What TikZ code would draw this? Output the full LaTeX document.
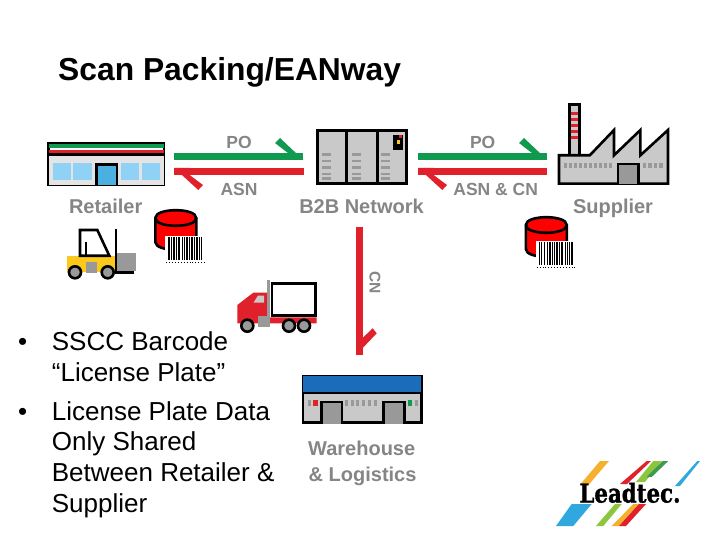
\documentclass[tikz,border=0pt]{standalone}
\usepackage{fontspec}
\usepackage{graphicx}
\setmainfont{Liberation Sans}
\newfontfamily\logofont{DejaVu Serif Bold}[FakeBold=1.5]
\definecolor{arrowgreen}{HTML}{0F9A50}
\definecolor{arrowred}{HTML}{E0202A}
\definecolor{labelgrey}{HTML}{858585}
\definecolor{wallgrey}{HTML}{C9C9C9}
\definecolor{doorgrey}{HTML}{999999}
\definecolor{windowblue}{HTML}{8FD2F6}
\definecolor{doorblue}{HTML}{4BB0E0}
\definecolor{roofblue}{HTML}{1B6DBB}
\definecolor{liftyellow}{HTML}{FBC81E}
\definecolor{logoblue}{HTML}{2FA8E0}
\definecolor{logoorange}{HTML}{F5B02E}
\definecolor{logogreen}{HTML}{8CC63F}
\definecolor{logodark}{HTML}{3E9A4C}
\usetikzlibrary{positioning}

\begin{document}
\begin{tikzpicture}[
  x=1pt, y=-1pt,
  title/.style={anchor=base west, inner sep=0pt, font=\fontsize{31.8}{36}\selectfont\bfseries},
  tag/.style={anchor=base, inner sep=0pt, text=labelgrey, font=\fontsize{17.5}{20}\selectfont\bfseries},
  caption/.style={anchor=base, inner sep=0pt, text=labelgrey, font=\fontsize{20}{24}\selectfont\bfseries},
  point/.style={anchor=base west, inner sep=0pt, align=left, font=\fontsize{26}{30.7}\selectfont},
  dot/.style={anchor=base, inner sep=0pt, font=\fontsize{26}{30}\selectfont},
  wall/.style={rectangle, draw=black, fill=wallgrey, line width=2.6pt, inner sep=0pt, anchor=north west},
  door/.style={draw=black, fill=doorgrey, line width=2.6pt},
  wheel/.style={circle, draw=black, fill=doorgrey, line width=2.6pt, inner sep=0pt, minimum size=12pt},
  vent/.style={fill=doorgrey},
  stem/.style={line width=7.3pt},
  barcode/.pic={
    \fill[white] (0,0) rectangle (40.4,28);
    \foreach \bx/\bw in {3/1.2,5.5/.8,8/1.6,11/.8,13/2,16.5/1,18.5/.8,20.5/1.8,23.5/1,25.5/2.2,29/.8,31/1.6,33.5/.8,35.5/1.4}
      \fill[black] (\bx,1) rectangle ++(\bw,23);
    \draw[black, line width=.9pt, dotted] (1,26) -- (39,26);
  },
  tank/.pic={
    \draw[black, fill=red, line width=2.6pt] (-20.5,0) -- (-20.5,24) .. controls (-20.5,34.4) and (20.5,34.4) .. (20.5,24) -- (20.5,0) .. controls (20.5,-10.4) and (-20.5,-10.4) .. (-20.5,0) -- cycle;
    \draw[black, line width=2.6pt] (-20.5,0) .. controls (-20.5,10.4) and (20.5,10.4) .. (20.5,0);
  },
]
\useasboundingbox (0,0) rectangle (720,540);

\node[title] (heading) at (58,81) {Scan Packing/EANway};

% retailer
\node[wall, fill=white, minimum width=115.4pt, minimum height=41.1pt] (store) at (47.3,142.3) {};
\fill[arrowgreen] (48.6,144.2) rectangle (164,148.3);
\fill[arrowred] (48.6,150.3) rectangle (164,153.3);
\fill[black] (48.6,153.3) rectangle (164,155.8);
\fill[wallgrey!50] (48.6,155.8) rectangle (164,184.7);
\foreach \wx in {52.7,73.3,120.7,141.7}
  \fill[windowblue] (\wx,162.7) rectangle ++(18.3,17.3);
\draw[black, fill=doorblue, line width=2.6pt] (96.3,185) -- (96.3,164.7) -- (117,164.7) -- (117,185);
\node[caption] (retailer) at (105.7,214) {Retailer};

% b2b network
\node[wall, minimum width=89.4pt, minimum height=53.1pt] (server) at (316,129.3) {};
\draw[black, line width=2.6pt] (346.7,130) -- (346.7,184) (377.3,130) -- (377.3,184);
\foreach \vx in {322,352,381.3}
  \foreach \vy in {153.3,159.8,166.3,172.8,177.3}
    \fill[vent] (\vx,\vy) rectangle ++(9,2.6);
\fill[black] (393.3,135) rectangle (402.7,150);
\fill[liftyellow] (396.5,140.5) rectangle (399.5,144);
\fill[arrowred] (399,135.5) rectangle (401.5,138);
\node[caption] (network) at (361.5,214) {B2B Network};

% supplier
\draw[black, fill=wallgrey, line width=2.6pt] (569.6,155) -- (569.6,104.6) -- (579.4,104.6) -- (579.4,155);
\foreach \cy in {111.7,117.7,123.7,129.7,135.7}
  \fill[arrowred] (571.3,\cy) rectangle ++(6.6,3.2);
\draw[black, fill=wallgrey, line width=2.6pt, line join=miter] (559,155.3) -- (589.8,155.3) -- (614,130) -- (614,155.3) -- (640.4,130) -- (640.4,155.3) -- (668,130) -- (668,183.7) -- (559,183.7) -- cycle;
\foreach \vi in {0,...,9}
  \fill[vent] (563.5+\vi*5,162.7) rectangle ++(3.2,5);
\foreach \vi in {0,...,3}
  \fill[vent] (643+\vi*5.4,162.7) rectangle ++(3.4,5);
\draw[door] (618,183.7) -- (618,164) -- (638.7,164) -- (638.7,183.7);
\node[caption] (supplier) at (613,213.5) {Supplier};

% warehouse
\node[wall, minimum width=118.7pt, minimum height=46.4pt] (depot) at (301.7,375) {};
\fill[roofblue] (303,376.3) rectangle (420.7,391.5);
\fill[black] (303,391.5) rectangle (420.7,393.5);
\draw[door] (321.3,423.5) -- (321.3,402) -- (342,402) -- (342,423.5);
\draw[door] (383.6,423.5) -- (383.6,402) -- (404.3,402) -- (404.3,423.5);
\fill[vent] (308.3,400) rectangle ++(2.4,6);
\fill[arrowred] (313.3,400) rectangle ++(4.4,6);
\foreach \vi in {0,...,5}
  \fill[vent] (345+\vi*5.7,400) rectangle ++(3,6);
\fill[arrowgreen] (408.3,400) rectangle ++(4,6);
\fill[vent] (415,400) rectangle ++(2.7,6);
\node[caption] (warehouse) at (361.7,455) {Warehouse};
\node[caption, anchor=base west] (logistics) at (308.5,481) {\& Logistics};

% forklift
\fill[liftyellow] (66.7,255.7) rectangle (116.7,271.7);
\fill[doorgrey] (117.3,252.7) rectangle (136,271);
\draw[black, line width=2.6pt] (80,255.7) -- (80,230) -- (97.3,230) -- (109.3,255.7) -- cycle;
\draw[black, line width=2.6pt] (86,241.7) -- (86,255.7);
\draw[black, line width=2.6pt] (116,229) -- (116,272.3) -- (134,272.3);
\fill[doorgrey] (86,261.7) rectangle (96.7,273);
\node[wheel] (liftfront) at (75,272.3) {};
\node[wheel] (liftback) at (107.7,272.3) {};

% truck
\fill[arrowred] (237.3,323.3) -- (237.3,305) -- (253.3,292.7) -- (267.3,292.7) -- (267.3,317.3) -- (316.7,317.3) -- (316.7,323.3) -- cycle;
\fill[wallgrey] (253.5,302.7) -- (258,295.5) -- (264,295.5) -- (264,302.7) -- cycle;
\node[wall, fill=white, minimum width=43.4pt, minimum height=31.8pt] (box) at (270.7,282.3) {};
\fill[doorgrey] (267.3,280) rectangle (270,320);
\fill[doorgrey] (258.3,316) rectangle (270,326.7);
\node[wheel] (truckfront) at (247.3,325.7) {};
\node[wheel] (truckmid) at (289,325.7) {};
\node[wheel] (truckrear) at (304,325.7) {};

% tanks with barcodes
\pic at (175.8,218) {tank};
\pic at (165.3,236) {barcode};
\pic at (546.3,225) {tank};
\pic at (535.7,241) {barcode};

% arrows
\coordinate (poLa) at (174.3,156.7);
\coordinate (poLb) at (303.3,156.7);
\coordinate (asnLa) at (174.3,171.7);
\coordinate (asnLb) at (304,171.7);
\coordinate (poRa) at (418.3,156.7);
\coordinate (poRb) at (547.3,156.7);
\coordinate (asnRa) at (418.3,171.7);
\coordinate (asnRb) at (547,171.7);
\coordinate (cnTop) at (359.7,226.7);
\coordinate (cnEnd) at (359.7,355);
\draw[stem, arrowgreen] (poLa) -- (poLb);
\fill[arrowgreen] (288.3,153.3) -- (275,143) -- (280,138) -- (303.3,160) -- (288.3,160) -- cycle;
\draw[stem, arrowred] (asnLa) -- (asnLb);
\fill[arrowred] (174.3,168) -- (190,168) -- (190,175.3) -- (203,185) -- (198.3,190) -- cycle;
\draw[stem, arrowgreen] (poRa) -- (poRb);
\fill[arrowgreen] (532.3,153.3) -- (519,143) -- (524,138) -- (547.3,160) -- (532.3,160) -- cycle;
\draw[stem, arrowred] (asnRa) -- (asnRb);
\fill[arrowred] (418.3,168) -- (434,168) -- (434,175.3) -- (447,185) -- (442.3,190) -- cycle;
\draw[stem, arrowred] (cnTop) -- (cnEnd);
\fill[arrowred] (356,355) -- (356,340) -- (363.3,337.3) -- (372.7,328.3) -- (376.7,333.3) -- cycle;

\node[tag] (poleft) at (239,148.7) {PO};
\node[tag] (asnleft) at (239,195.3) {ASN};
\node[tag] (poright) at (482.7,148.7) {PO};
\node[tag] (asnright) at (495.7,195.3) {ASN \& CN};
\node[tag, anchor=center, rotate=-90, font=\fontsize{15.5}{18}\selectfont\bfseries] (cnlabel) at (375,282.7) {CN};

% bullets
\node[point] (sscc) at (51.7,350) {SSCC Barcode};
\node[point] (plate) at (51.7,381) {“License Plate”};
\node[point] (shared) at (51.7,420) {License Plate Data};
\node[point] (only) at (51.7,450.7) {Only Shared};
\node[point] (between) at (51.7,481.7) {Between Retailer \&};
\node[point] (supp) at (51.7,512.7) {Supplier};
\node[dot] (bulletA) at (22.7,350) {•};
\node[dot] (bulletB) at (22.7,420) {•};

% logo
\fill[logoorange] (600,461) -- (609,461) -- (589.3,484) -- (580.7,484) -- cycle;
\fill[arrowred] (646.7,461) -- (651,461) -- (627,484) -- (620,484) -- cycle;
\fill[logogreen] (653.3,461) -- (661.7,461) -- (645,482) -- (636,482) -- cycle;
\fill[logodark] (662.7,461) -- (668.3,461) -- (651.7,477) -- (646.7,477) -- cycle;
\fill[logoblue] (697.3,461) -- (700,461) -- (680,486) -- (675,486) -- cycle;
\fill[logoblue] (571.7,504) -- (591.7,504) -- (573.3,526) -- (556,526) -- cycle;
\fill[logogreen] (615,504) -- (621.7,504) -- (603.3,526) -- (596,526) -- cycle;
\fill[logoorange] (633.3,504) -- (639,504) -- (619,526) -- (611.7,526) -- cycle;
\fill[arrowred] (639,504) -- (646,504) -- (626,526) -- (619,526) -- cycle;
\node[anchor=base, inner sep=0pt, font=\logofont\fontsize{26}{30}\selectfont] (leadtec) at (630,502.5) {\scalebox{0.82}[1]{Leadtec.}};
\end{tikzpicture}
\end{document}
